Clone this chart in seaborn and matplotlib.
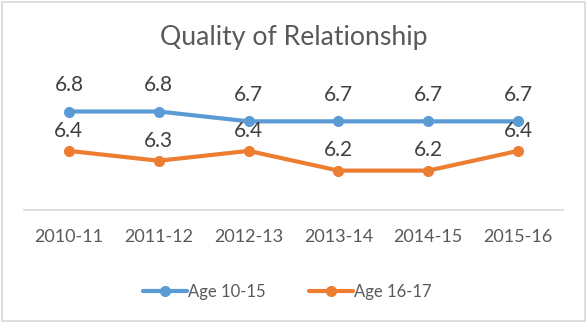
import matplotlib
matplotlib.use("Agg")
import matplotlib.pyplot as plt
import seaborn as sns
import pandas as pd
from matplotlib.patches import Rectangle

years = ["2010-11", "2011-12", "2012-13", "2013-14", "2014-15", "2015-16"]
age_10_15 = [6.8, 6.8, 6.7, 6.7, 6.7, 6.7]
age_16_17 = [6.4, 6.3, 6.4, 6.2, 6.2, 6.4]
series_names = ["Age 10-15", "Age 16-17"]
colors = ["#5B9BD5", "#ED7D31"]

df = pd.DataFrame({
    "year": years * 2,
    "x": list(range(len(years))) * 2,
    "value": age_10_15 + age_16_17,
    "series": [series_names[0]] * len(years) + [series_names[1]] * len(years),
})

sns.set_theme(style="white")
plt.rcParams["font.family"] = ["Lato", "DejaVu Sans"]

fig = plt.figure(figsize=(5.87, 3.23), dpi=100)
ax = fig.add_axes([24 / 587, (323 - 210) / 323, 539 / 587, (210 - 52.4) / 323])

sns.lineplot(data=df, x="x", y="value", hue="series", palette=colors,
             marker="o", markersize=8, markeredgewidth=0, linewidth=3.0,
             ax=ax, legend=False)

ax.set_xlim(-0.5, len(years) - 0.5)
ax.set_ylim(5.8, 7.4)
ax.set_xticks(range(len(years)))
ax.set_xticklabels(years, fontsize=13, color="#595959")
ax.tick_params(axis="x", length=0, pad=14)
ax.set_yticks([])
ax.set_xlabel("")
ax.set_ylabel("")
for s in ["top", "left", "right"]:
    ax.spines[s].set_visible(False)
ax.spines["bottom"].set_color("#D9D9D9")
ax.spines["bottom"].set_linewidth(1.2)

for i, v in enumerate(age_10_15):
    ax.annotate(f"{v:.1f}", (i, v), xytext=(0, 19), textcoords="offset points",
                ha="center", va="center", fontsize=15, color="#404040")
for i, v in enumerate(age_16_17):
    ax.annotate(f"{v:.1f}", (i, v), xytext=(0, 14.5), textcoords="offset points",
                ha="center", va="center", fontsize=15, color="#404040")

fig.text(0.5, (323 - 38) / 323, "Quality of Relationship", ha="center", va="center",
         fontsize=19.2, color="#595959")

handles = [plt.Line2D([], [], color=c, marker="o", markersize=8, markeredgewidth=0,
                      linewidth=3.0) for c in colors]
fig.legend(handles, series_names, loc="center", bbox_to_anchor=(0.49, (323 - 292) / 323),
           ncol=2, frameon=False, fontsize=12, labelcolor="#595959",
           handlelength=2.6, handletextpad=0.1, columnspacing=2.6)

fig.patches.append(Rectangle((0.003, 0.005), 0.993, 0.99, transform=fig.transFigure,
                             fill=False, edgecolor="#D9D9D9", linewidth=1.2))

fig.savefig("out.png", dpi=100, facecolor="white")
